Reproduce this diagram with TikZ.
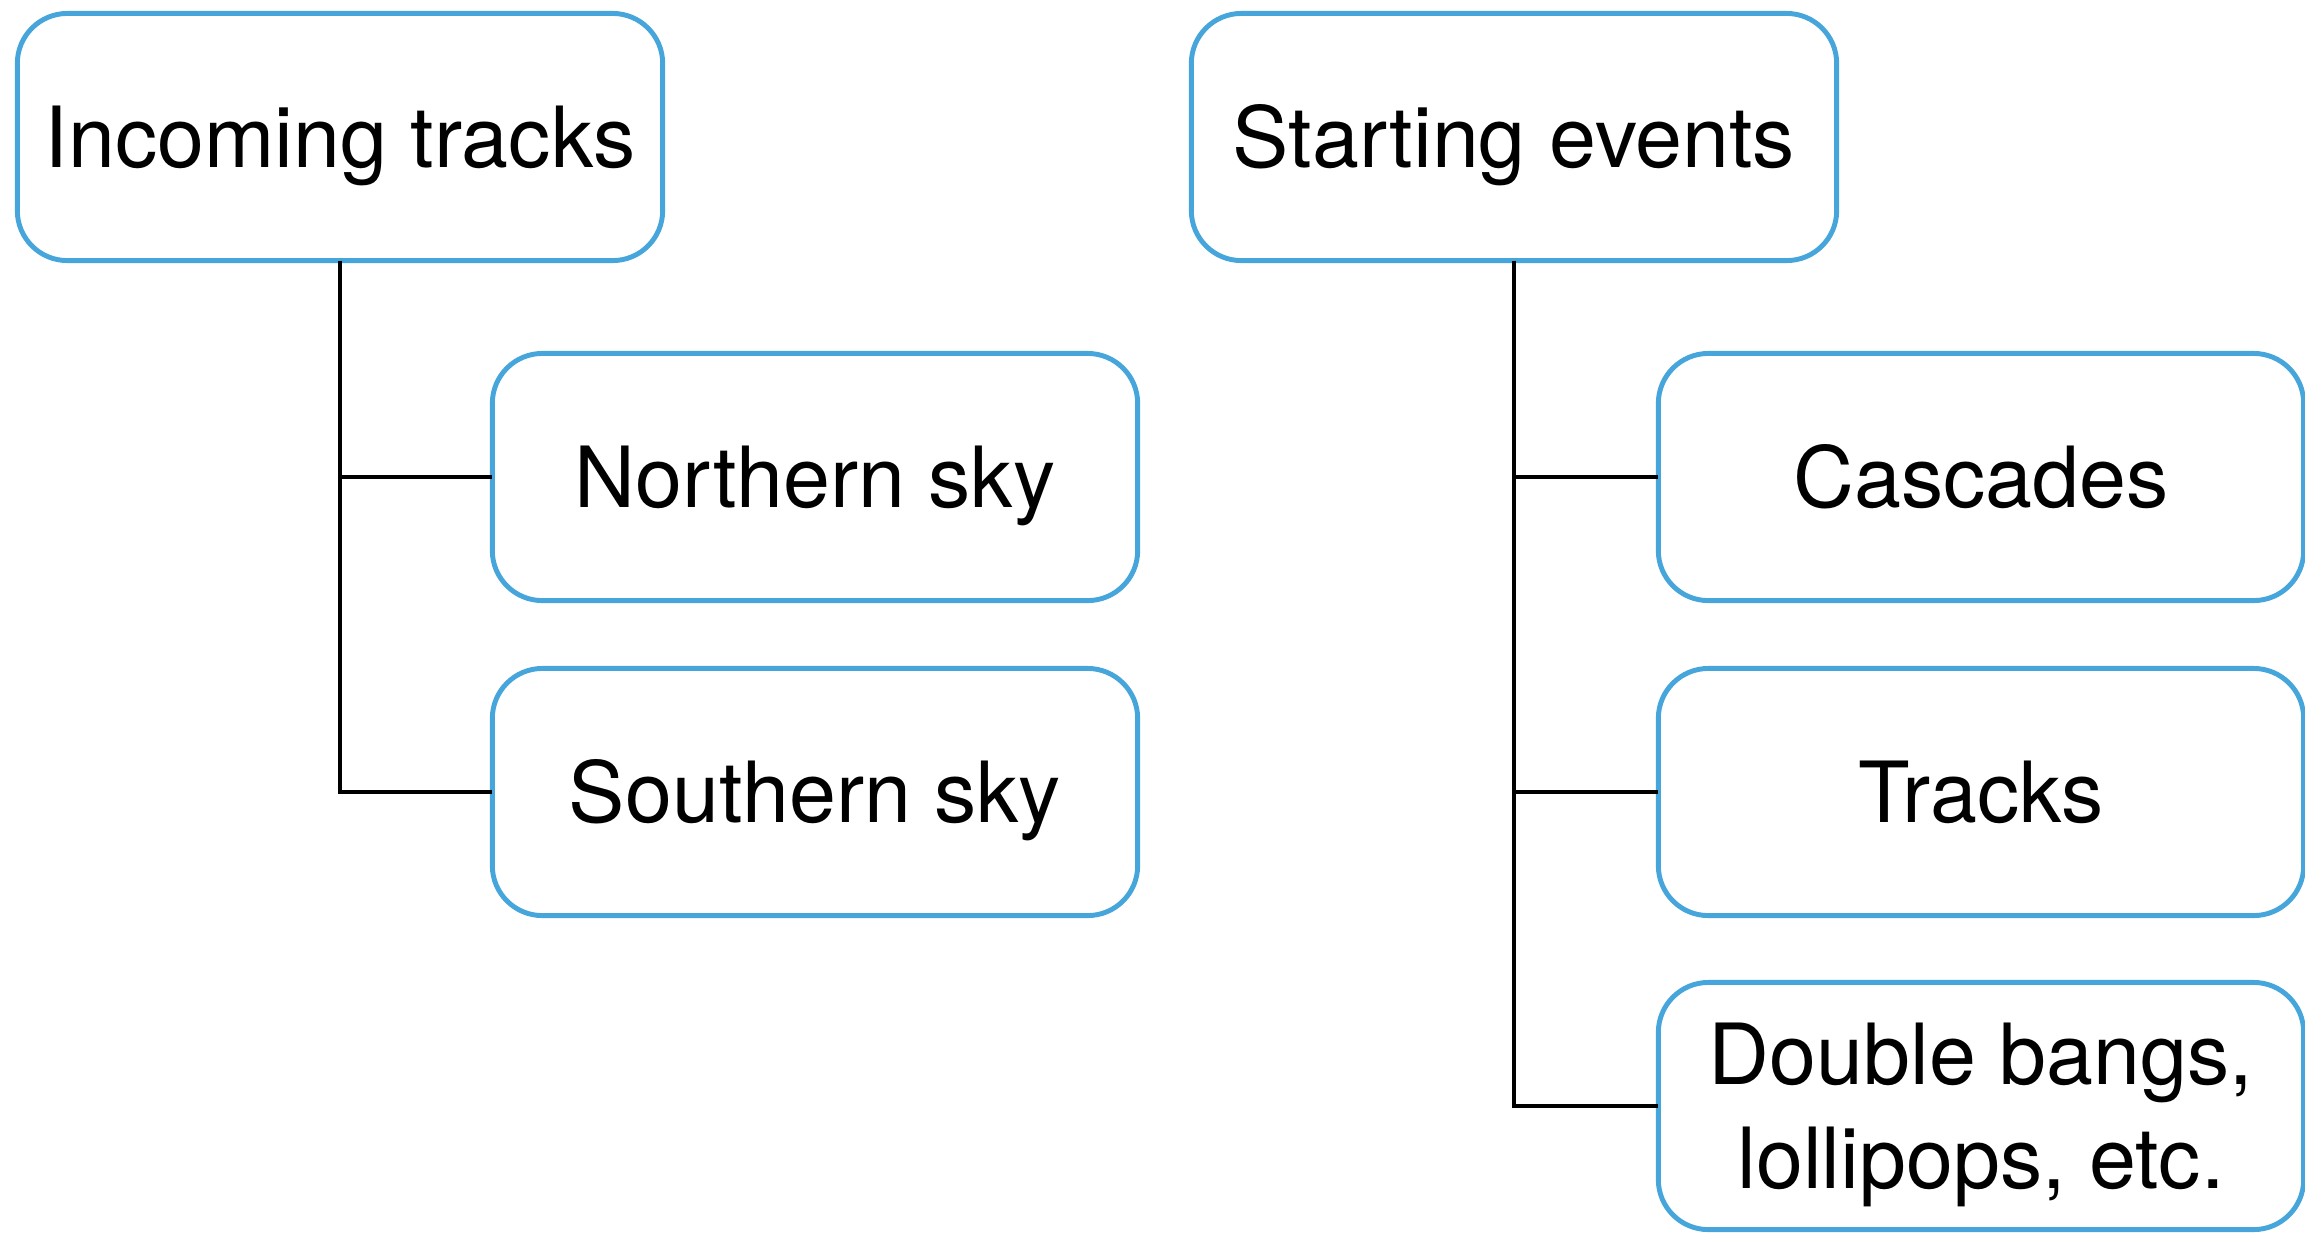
\documentclass[tikz,border=0pt]{standalone}
\usepackage{fontspec}
\setmainfont{TeX Gyre Heros}
\definecolor{boxblue}{RGB}{70,165,218}
\tikzset{
  catbox/.style={draw=boxblue, line width=1.4pt, rounded corners=0.5cm,
    minimum width=6.45cm, minimum height=2.47cm, inner sep=0pt, outer sep=0pt,
    text height=17.2pt, text depth=0pt,
    font=\fontsize{24}{29.6}\selectfont},
  tree/.style={draw=black, line width=1.3pt}
}
\begin{document}
\begin{tikzpicture}[x=0.01cm,y=-0.01cm]
\useasboundingbox (0,0) rectangle (2305,1232);
\node[catbox] (inc) at (340,137) {Incoming tracks};
\node[catbox] (nor) at (815,477) {Northern sky};
\node[catbox] (sou) at (815,792) {Southern sky};
\node[catbox] (sta) at (1514,137) {Starting events};
\node[catbox] (cas) at (1981,477) {Cascades};
\node[catbox] (tra) at (1981,792) {Tracks};
\node[catbox, text height=46.8pt] (dbl) at (1981,1106)
  {\begin{tabular}[b]{@{}c@{}}Double bangs,\\lollipops, etc.\end{tabular}};
\draw[tree] (inc.south) |- (nor.west);
\draw[tree] (inc.south) |- (sou.west);
\draw[tree] (sta.south) |- (cas.west);
\draw[tree] (sta.south) |- (tra.west);
\draw[tree] (sta.south) |- (dbl.west);
\end{tikzpicture}
\end{document}
